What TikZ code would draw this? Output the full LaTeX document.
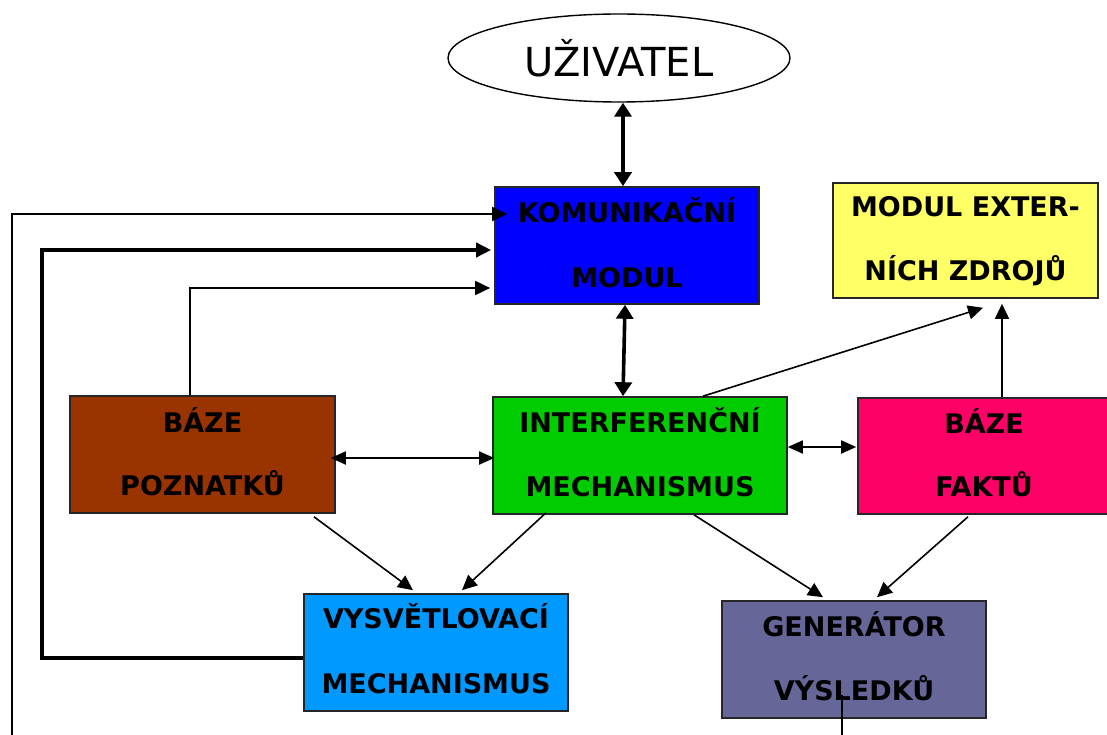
\documentclass[tikz,border=0pt]{standalone}
\usepackage{fontspec}
\setmainfont{DejaVu Sans}
\usetikzlibrary{shapes.geometric,arrows.meta,calc}

\definecolor{komblue}{HTML}{0000FF}
\definecolor{extyellow}{HTML}{FFFF66}
\definecolor{bpbrown}{HTML}{993300}
\definecolor{infgreen}{HTML}{00CC00}
\definecolor{bfpink}{HTML}{FF0066}
\definecolor{vysblue}{HTML}{0099FF}
\definecolor{genslate}{HTML}{666699}

\tikzset{
  block/.style={draw=black!85, line width=1.6pt, rectangle, inner sep=0pt,
                minimum width=264pt, minimum height=117pt},
  lbl/.style={font=\bfseries\fontsize{27}{27}\selectfont, inner sep=0pt, anchor=base},
  tipthin/.style={-{Triangle[length=15pt,width=14pt]}},
  thinline/.style={line width=1.6pt, black},
  thickline/.style={line width=3.6pt, black},
  biarrow/.style={line width=3.6pt, {Triangle[length=14pt,width=17pt]}-{Triangle[length=14pt,width=17pt]}},
  bithin/.style={line width=1.8pt, {Triangle[length=15pt,width=13pt]}-{Triangle[length=15pt,width=13pt]}},
}

\begin{document}
\begin{tikzpicture}[x=1pt,y=-1pt]
\useasboundingbox (0,0) rectangle (1107,735);
\clip (0,0) rectangle (1107,735);

% user
\node[draw, ellipse, line width=1.4pt, minimum width=342pt, minimum height=88pt,
      font=\fontsize{40}{40}\selectfont] (uziv) at (619,58) {UŽIVATEL};

% blocks
\node[block, fill=komblue] (kom) at (627,245.5) {};
\node[block, fill=extyellow, minimum width=265pt, minimum height=115pt] (mex) at (965.5,240.5) {};
\node[block, fill=bpbrown, minimum width=265pt] (bp) at (202.5,454.5) {};
\node[block, fill=infgreen, minimum width=294pt] (inf) at (640,455.5) {};
\node[block, fill=bfpink, minimum width=252pt, minimum height=116pt] (bf) at (984,456) {};
\node[block, fill=vysblue] (vys) at (436,652.5) {};
\node[block, fill=genslate] (gen) at (854,659.5) {};

% block texts
\node[lbl] (kom1) at ($(kom.center)+(0,-23)$) {KOMUNIKAČNÍ};
\node[lbl] (kom2) at ($(kom.center)+(0,41.5)$) {MODUL};
\node[lbl] (mex1) at ($(mex.center)+(0,-23.5)$) {MODUL EXTER-};
\node[lbl] (mex2) at ($(mex.center)+(0,39.5)$) {NÍCH ZDROJŮ};
\node[lbl] (bp1) at ($(bp.center)+(0,-22.5)$) {BÁZE};
\node[lbl] (bp2) at ($(bp.center)+(0,40.5)$) {POZNATKŮ};
\node[lbl] (inf1) at ($(inf.center)+(0,-23)$) {INTERFERENČNÍ};
\node[lbl] (inf2) at ($(inf.center)+(0,40.5)$) {MECHANISMUS};
\node[lbl] (bf1) at ($(bf.center)+(0,-23)$) {BÁZE};
\node[lbl] (bf2) at ($(bf.center)+(0,40.5)$) {FAKTŮ};
\node[lbl] (vys1) at ($(vys.center)+(0,-24.5)$) {VYSVĚTLOVACÍ};
\node[lbl] (vys2) at ($(vys.center)+(0,40.5)$) {MECHANISMUS};
\node[lbl] (gen1) at ($(gen.center)+(0,-23.5)$) {GENERÁTOR};
\node[lbl] (gen2) at ($(gen.center)+(0,40.5)$) {VÝSLEDKŮ};

% free ends and corners of the feedback lines
\coordinate (leftfoot) at (12,740);
\coordinate (loopcorner) at (42,250);
\coordinate (genfoot) at (842,740);

% user <-> communication module <-> inference engine
\draw[biarrow] ([xshift=4pt]uziv.south) -- ([xshift=-4pt]kom.north);
\draw[biarrow] ([xshift=-2pt]kom.south) -- ([xshift=-17pt]inf.north);

% feedback lines into the communication module
\draw[thinline, tipthin] (leftfoot) |- ([shift={(13,-31.5)}]kom.west);
\draw[thickline, tipthin] ([shift={(0,5.5)}]vys.west) -| (loopcorner) -- ([shift={(-3,4.5)}]kom.west);
\draw[thinline, tipthin] ([xshift=-12.5pt]bp.north) |- ([shift={(-4,42.5)}]kom.west);

% horizontal links of the inference engine
\draw[bithin] ([shift={(-5,3.5)}]bp.east) -- ([shift={(2,2.5)}]inf.west);
\draw[bithin] ([shift={(0,-8.5)}]inf.east) -- ([shift={(-1,-9)}]bf.west);

% links to the external sources module
\draw[thinline, tipthin] ([xshift=63pt]inf.north) -- ([shift={(17.5,9)}]mex.south);
\draw[thinline, tipthin] ([xshift=18pt]bf.north) -- ([shift={(36.5,5)}]mex.south);

% links down to the explanation module and the result generator
\draw[thinline, tipthin] ([shift={(111.5,3)}]bp.south) -- ([shift={(-23,-3)}]vys.north);
\draw[thinline, tipthin] ([shift={(-94,-2)}]inf.south) -- ([shift={(26,-3)}]vys.north);
\draw[thinline, tipthin] ([shift={(54,0)}]inf.south) -- ([shift={(-31,-3)}]gen.north);
\draw[thinline, tipthin] ([shift={(-16,2)}]bf.south) -- ([shift={(23,-3)}]gen.north);

% output line of the generator
\draw[thinline] ([shift={(-12,35.5)}]gen.center) -- (genfoot);
\end{tikzpicture}
\end{document}
